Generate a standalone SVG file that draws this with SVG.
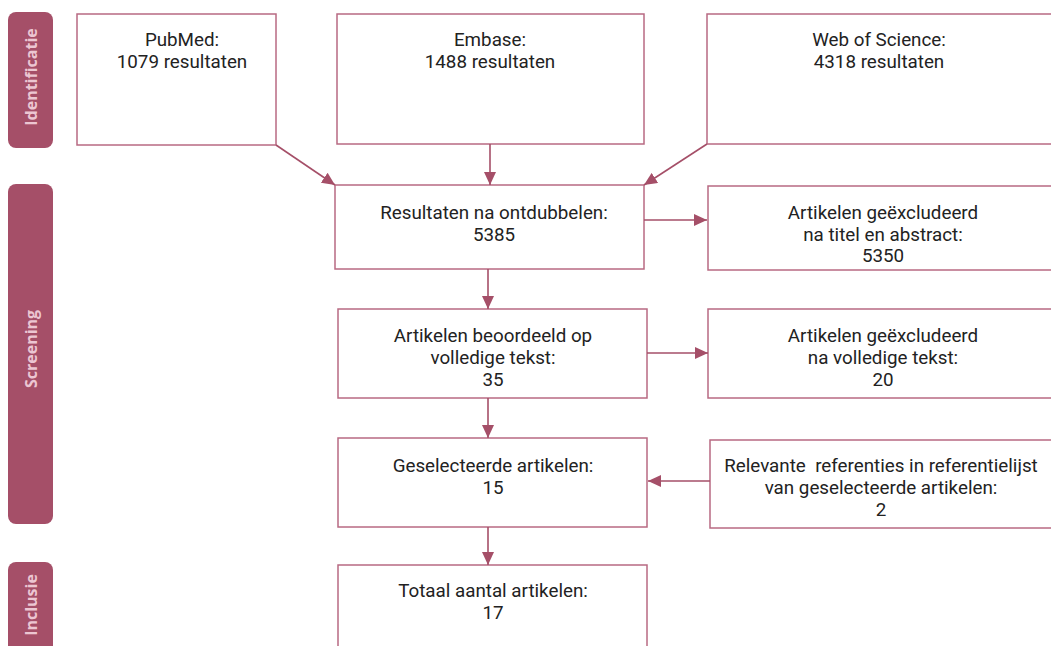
<svg xmlns="http://www.w3.org/2000/svg" width="1051" height="646" viewBox="0 0 1051 646">
<style>
.box{fill:#fff;stroke:#b86a82;stroke-width:1.5}
.side{fill:#a54f68}
.st{fill:#ecc6d2;font-family:"Open Sans",sans-serif;font-weight:bold;font-size:16px;text-anchor:middle}
.t{fill:#222;font-family:Roboto,"Liberation Sans",sans-serif;font-size:18.8px;text-anchor:middle}
.c{stroke:#a54f68;stroke-width:1.6;fill:none}
</style>
<defs>
<marker id="ah" viewBox="0 0 13 12" refX="13" refY="6" markerWidth="13" markerHeight="12" markerUnits="userSpaceOnUse" orient="auto">
<path d="M0,0 L13,6 L0,12 z" fill="#a54f68"/>
</marker>
</defs>
<g id="side-identificatie"><rect class="side" x="8" y="12" width="45" height="136" rx="8"/><text class="st" transform="translate(37,77) rotate(-90)">Identificatie</text></g>
<g id="side-screening"><rect class="side" x="8" y="184" width="45" height="340" rx="8"/><text class="st" transform="translate(37,349) rotate(-90)">Screening</text></g>
<g id="side-inclusie"><rect class="side" x="8" y="562" width="45" height="100" rx="8"/><text class="st" transform="translate(37,605) rotate(-90)">Inclusie</text></g>
<g id="pubmed"><rect class="box" x="77" y="14" width="199" height="131"/><text class="t" x="182" y="46">PubMed:</text><text class="t" x="182" y="68">1079 resultaten</text></g>
<g id="embase"><rect class="box" x="337" y="14" width="307" height="130"/><text class="t" x="490" y="46">Embase:</text><text class="t" x="490" y="68">1488 resultaten</text></g>
<g id="wos"><rect class="box" x="707" y="14" width="350" height="130"/><text class="t" x="879" y="46">Web of Science:</text><text class="t" x="879" y="68">4318 resultaten</text></g>
<g id="resultaten"><rect class="box" x="335" y="185" width="309" height="84"/><text class="t" x="494" y="219">Resultaten na ontdubbelen:</text><text class="t" x="494" y="241">5385</text></g>
<g id="excl1"><rect class="box" x="708" y="186" width="350" height="84"/><text class="t" x="883" y="219">Artikelen geëxcludeerd</text><text class="t" x="883" y="241">na titel en abstract:</text><text class="t" x="883" y="262">5350</text></g>
<g id="beoordeeld"><rect class="box" x="338" y="309" width="309" height="89"/><text class="t" x="493" y="342">Artikelen beoordeeld op</text><text class="t" x="493" y="364">volledige tekst:</text><text class="t" x="493" y="386">35</text></g>
<g id="excl2"><rect class="box" x="708" y="309" width="350" height="89"/><text class="t" x="883" y="342">Artikelen geëxcludeerd</text><text class="t" x="883" y="364">na volledige tekst:</text><text class="t" x="883" y="386">20</text></g>
<g id="geselecteerd"><rect class="box" x="338" y="438" width="309" height="89"/><text class="t" x="493" y="472">Geselecteerde artikelen:</text><text class="t" x="493" y="494">15</text></g>
<g id="relevante"><rect class="box" x="710" y="440" width="350" height="88"/><text class="t" x="881" y="472" xml:space="preserve">Relevante  referenties in referentielijst</text><text class="t" x="881" y="494">van geselecteerde artikelen:</text><text class="t" x="881" y="516">2</text></g>
<g id="totaal"><rect class="box" x="338" y="565" width="309" height="100"/><text class="t" x="493" y="597">Totaal aantal artikelen:</text><text class="t" x="493" y="619">17</text></g>
<g id="connectors">
<line class="c" x1="276" y1="145" x2="335" y2="185" marker-end="url(#ah)"/>
<line class="c" x1="490" y1="144" x2="490" y2="185" marker-end="url(#ah)"/>
<line class="c" x1="707" y1="144" x2="644" y2="185" marker-end="url(#ah)"/>
<line class="c" x1="644" y1="220" x2="707" y2="220" marker-end="url(#ah)"/>
<line class="c" x1="488" y1="269" x2="488" y2="309" marker-end="url(#ah)"/>
<line class="c" x1="647" y1="353" x2="708" y2="353" marker-end="url(#ah)"/>
<line class="c" x1="488" y1="398" x2="488" y2="438" marker-end="url(#ah)"/>
<line class="c" x1="710" y1="481" x2="648" y2="481" marker-end="url(#ah)"/>
<line class="c" x1="488" y1="527" x2="488" y2="565" marker-end="url(#ah)"/>
</g>
</svg>
